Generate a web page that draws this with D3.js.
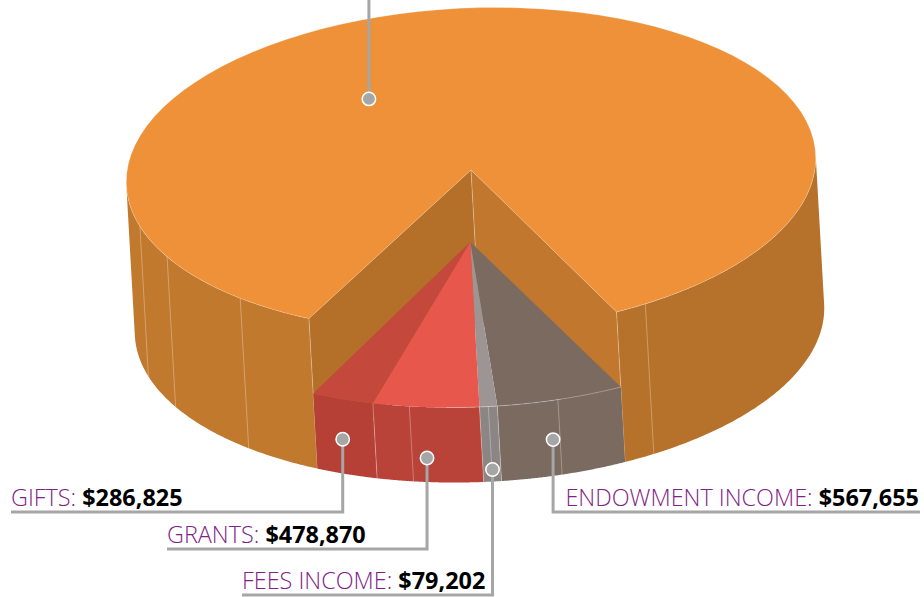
<!DOCTYPE html>
<html>
<head>
<meta charset="utf-8">
<script src="https://cdn.jsdelivr.net/npm/d3@7"></script>
<style>
  body { margin: 0; background: #fff; }
  svg { display: block; }
</style>
</head>
<body>
<div id="chart"></div>
<script>
// clockwise from the right hand cut, the big slice's label is cropped in the source so its value is estimated
const categories = ["ENDOWMENT INCOME", "FEES INCOME", "GRANTS", "GIFTS", "OTHER"];
const values = [567655, 79202, 478870, 286825, 8180000];
const valueLabels = ["$567,655", "$79,202", "$478,870", "$286,825", ""];
const topColors = ["#7a6a5f", "#9c9593", "#e8574c", "#c4483c", "#ee9139"];
const sideColors = ["#7a6a5f", "#8b8584", "#b94239", "#b63f36", "#c1792d"];

// extra seam lines on the side walls, degrees
const seamsBig = [150.8, 223.2, 243, 255];
const seamsSmall = [167.3, 179, 192.2];

// callouts: angle on the pie, radius fraction, depth fraction
const calloutAngle = [168.5, 178.9, 189.7, 204.2, 328.4];
const calloutRadius = [1, 1, 1, 1, 0.547];
const calloutDepth = [0.76, 0.92, 0.84, 0.77, 0];
const calloutEndX = [920, 242, 167, 11, null];
const calloutElbowY = [512, 595, 549, 512, 0];

const width = 924;
const height = 597;
const startDeg = 156.2;
const rad = d3.scaleLinear().domain([0, 360]).range([0, 2 * Math.PI]);

const pie = d3.pie().sort(null).value(d => d)
    .startAngle(rad(startDeg))
    .endAngle(rad(startDeg + 360));
const arcs = pie(values);

// tilted ellipse, depth 0 is the top face and 1 the ground
const semiA = 345;
const semiB = 162;
const tilt = rad(2.5);
const depthX = d3.scaleLinear().domain([0, 1]).range([471, 479.5]);
const depthY = d3.scaleLinear().domain([0, 1]).range([170, 320]);

function project(angle, r, t) {
    const u = semiA * r * Math.sin(angle);
    const v = -semiB * r * Math.cos(angle);
    return [
        depthX(t) + u * Math.cos(tilt) + v * Math.sin(tilt),
        depthY(t) - u * Math.sin(tilt) + v * Math.cos(tilt)
    ];
}

const line = d3.line();
const rim = (a0, a1, t) => d3.range(0, 91).map(i => project(a0 + (a1 - a0) * i / 90, 1, t));
const wall = (a0, a1, t0, t1) => line(rim(a0, a1, t0).concat(rim(a0, a1, t1).reverse())) + "Z";

const svg = d3.select("#chart")
    .append("svg")
    .attr("width", width)
    .attr("height", height)
    .style("font-family", "'Open Sans', sans-serif");

const big = arcs[4];
const small = arcs.slice(0, 4);
const seamColor = "rgba(255,255,255,0.3)";

// outer walls of the big slice, only up to the silhouette
svg.append("path").attr("d", wall(big.startAngle, rad(270), 0, 1)).attr("fill", sideColors[4]);
svg.append("path").attr("d", wall(rad(90), rad(startDeg), 0, 1)).attr("fill", "#b6722a");

// inner walls of the cut
const cLeft = project(big.startAngle, 1, 0);
const cRight = project(big.endAngle, 1, 0);
const cLeftLow = project(big.startAngle, 1, 1);
const cRightLow = project(big.endAngle, 1, 1);
const cTop = project(0, 0, 0);
const cLow = project(0, 0, 1);
svg.append("path").attr("d", line([cTop, cLeft, cLeftLow, cLow]) + "Z").attr("fill", "#b46f29");
svg.append("path").attr("d", line([cTop, cRight, cRightLow, cLow]) + "Z").attr("fill", "#c1772d");

// seams on the big slice
const seamDeg = d3.scaleLinear().domain([0, 2 * Math.PI]).range([0, 360]);
svg.selectAll(".seam-big")
    .data(seamsBig.concat([seamDeg(big.startAngle), startDeg]))
    .enter()
    .append("path")
    .attr("class", "seam-big")
    .attr("d", d => line([project(rad(d), 1, 0), project(rad(d), 1, 1)]))
    .attr("stroke", seamColor)
    .attr("fill", "none");
svg.append("path")
    .attr("d", line([cTop, project(0, 0, 0.5)]))
    .attr("stroke", seamColor)
    .attr("fill", "none");

// small slices, side walls then top
const apex = project(0, 0, 0.5);
apex[0] -= 5;
apex[1] -= 3;

svg.selectAll(".side")
    .data(small)
    .enter()
    .append("path")
    .attr("class", "side")
    .attr("d", d => wall(d.startAngle, d.endAngle, 0.5, 1))
    .attr("fill", d => sideColors[d.index]);

svg.selectAll(".seam-small")
    .data(seamsSmall.concat(small.slice(1).map(d => seamDeg(d.startAngle))))
    .enter()
    .append("path")
    .attr("class", "seam-small")
    .attr("d", d => line([project(rad(d), 1, 0.5), project(rad(d), 1, 1)]))
    .attr("stroke", seamColor)
    .attr("fill", "none");

svg.selectAll(".top")
    .data(small)
    .enter()
    .append("path")
    .attr("class", "top")
    .attr("d", d => line([apex].concat(rim(d.startAngle, d.endAngle, 0.5))) + "Z")
    .attr("fill", d => topColors[d.index]);

svg.append("path")
    .attr("d", line(rim(rad(startDeg), rad(186), 0.5)))
    .attr("stroke", seamColor)
    .attr("fill", "none");

// big top face
svg.append("path")
    .attr("d", line([cTop].concat(rim(big.startAngle, big.endAngle, 0))) + "Z")
    .attr("fill", topColors[4])
    .attr("stroke", "rgba(255,255,255,0.3)")
    .attr("stroke-width", 0.7);

// callouts
const callouts = categories.map((c, i) => ({
    name: c,
    value: valueLabels[i],
    anchor: project(rad(calloutAngle[i]), calloutRadius[i], calloutDepth[i]),
    endX: calloutEndX[i],
    elbowY: calloutElbowY[i]
}));

svg.selectAll(".leader")
    .data(callouts)
    .enter()
    .append("path")
    .attr("class", "leader")
    .attr("d", d => {
        const pts = [d.anchor, [d.anchor[0], d.elbowY]];
        if (d.endX !== null) pts.push([d.endX, d.elbowY]);
        return line(pts);
    })
    .attr("stroke", "#a6a6a6")
    .attr("stroke-width", 3)
    .attr("fill", "none");

svg.selectAll(".marker")
    .data(callouts)
    .enter()
    .append("circle")
    .attr("class", "marker")
    .attr("cx", d => d.anchor[0])
    .attr("cy", d => d.anchor[1])
    .attr("r", 6.7)
    .attr("fill", "#a6a6a6")
    .attr("stroke", "#fff")
    .attr("stroke-width", 1.5);

const labels = svg.selectAll(".label")
    .data(callouts.filter(d => d.endX !== null))
    .enter()
    .append("text")
    .attr("class", "label")
    .attr("x", d => d.endX === 920 ? 919 : d.endX)
    .attr("y", d => d.elbowY - 6.5)
    .attr("text-anchor", d => d.endX === 920 ? "end" : "start")
    .attr("font-size", "23.4px");

labels.append("tspan")
    .attr("fill", "#7f2287")
    .attr("font-weight", 300)
    .text(d => `${d.name}: `);

labels.append("tspan")
    .attr("fill", "#000")
    .attr("font-weight", 700)
    .text(d => d.value);
</script>
</body>
</html>
